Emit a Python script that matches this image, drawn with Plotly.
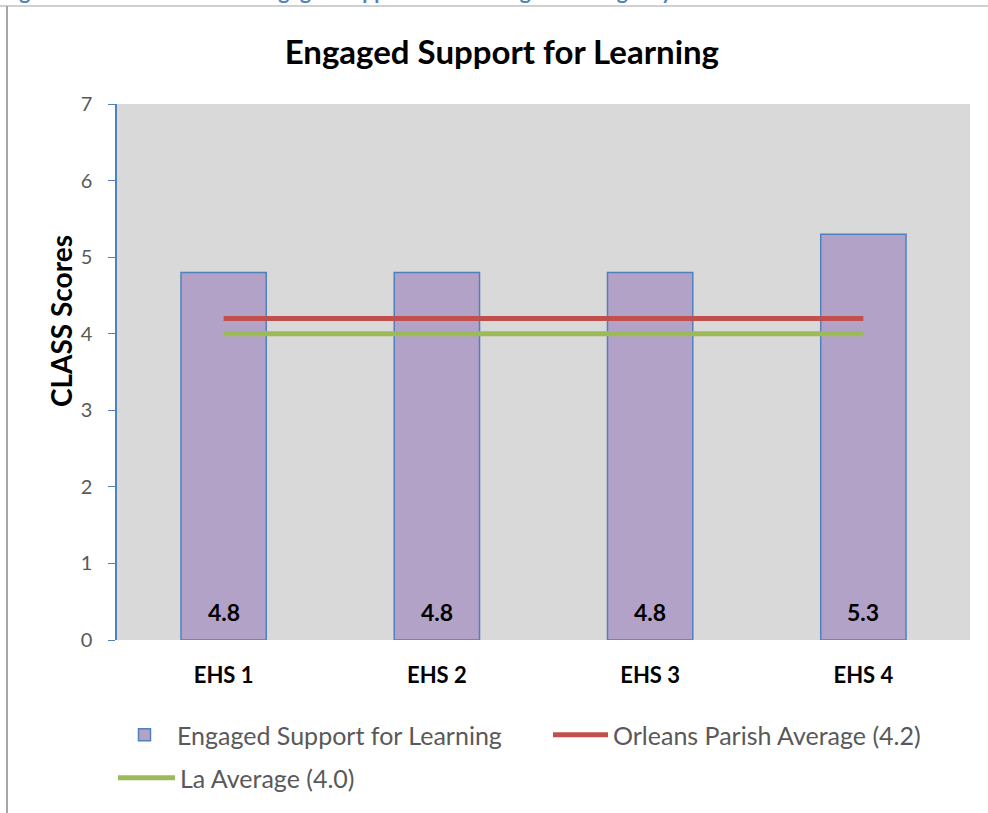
import plotly.graph_objects as go

categories = ["EHS 1", "EHS 2", "EHS 3", "EHS 4"]
engaged_scores = [4.8, 4.8, 4.8, 5.3]
orleans_avg = [4.2, 4.2, 4.2, 4.2]
la_avg = [4.0, 4.0, 4.0, 4.0]

FONT = "Lato"
W, H = 988, 813
L, R, T, B = 117, 18, 104, 173


def px_x(p):
    return (p - L) / (W - L - R)


def px_y(p):
    return (H - B - p) / (H - T - B)


fig = go.Figure()
fig.add_trace(
    go.Bar(
        x=categories,
        y=engaged_scores,
        name="Engaged Support for Learning",
        marker=dict(color="#B3A2C7", line=dict(color="#4F81BD", width=1.5)),
        legend="legend",
        showlegend=True,
    )
)
fig.add_trace(
    go.Scatter(
        x=categories,
        y=orleans_avg,
        mode="lines",
        name="Orleans Parish Average (4.2)",
        line=dict(color="#C0504D", width=5),
        legend="legend2",
    )
)
fig.add_trace(
    go.Scatter(
        x=categories,
        y=la_avg,
        mode="lines",
        name="La Average (4.0)",
        line=dict(color="#9BBB59", width=5),
        legend="legend3",
    )
)

# value labels sitting at the base of each bar
for cat, val in zip(categories, engaged_scores):
    fig.add_annotation(
        x=cat, y=0, text=f"<b>{val:.1f}</b>",
        yanchor="bottom", yshift=12, showarrow=False,
        font=dict(family=FONT, size=23, color="black"),
    )

# y axis title sits above the axis middle, as in the source chart
fig.add_annotation(
    text="<b>CLASS Scores</b>",
    xref="paper", yref="paper",
    x=px_x(61), y=px_y(321),
    xanchor="center", yanchor="middle",
    textangle=-90, showarrow=False,
    font=dict(family=FONT, size=28, color="black"),
)

# cropped document caption and chart frame
fig.add_annotation(
    text="<b>Figure 3: CLASS Scores for Engaged Support for Learning Across Agency</b>",
    xref="paper", yref="paper",
    x=px_x(0), y=px_y(5),
    xanchor="left", yanchor="bottom",
    showarrow=False,
    font=dict(family=FONT, size=21, color="#4F81BD"),
)
fig.add_shape(type="line", xref="paper", yref="paper",
              x0=px_x(0), x1=px_x(988), y0=px_y(6), y1=px_y(6),
              line=dict(color="#D0D0D0", width=2))
fig.add_shape(type="line", xref="paper", yref="paper",
              x0=px_x(7), x1=px_x(7), y0=px_y(6), y1=px_y(813),
              line=dict(color="#A6A6A6", width=2))

legend_common = dict(
    orientation="h",
    xanchor="left",
    yanchor="middle",
    font=dict(family=FONT, size=25, color="#595959"),
    bgcolor="rgba(0,0,0,0)",
)

fig.update_layout(
    width=W,
    height=H,
    margin=dict(l=L, r=R, t=T, b=B),
    paper_bgcolor="white",
    plot_bgcolor="#D9D9D9",
    bargap=0.6,
    showlegend=True,
    title=dict(
        text="<b>Engaged Support for Learning</b>",
        x=0.508, xanchor="center",
        y=1 - 52 / H, yanchor="middle",
        font=dict(family=FONT, size=33, color="black"),
    ),
    legend=dict(x=px_x(112), y=px_y(735), itemwidth=55, visible=True, **legend_common),
    legend2=dict(x=px_x(548), y=px_y(735), itemwidth=55, **legend_common),
    legend3=dict(x=px_x(113), y=px_y(778), itemwidth=57, **legend_common),
    xaxis=dict(
        showgrid=False,
        showline=False,
        ticks="",
        ticklabelstandoff=20,
        tickfont=dict(family=FONT, size=22, color="black", weight="bold"),
    ),
    yaxis=dict(
        range=[0, 7],
        dtick=1,
        showgrid=False,
        zeroline=False,
        showline=True,
        linecolor="#4F81BD",
        linewidth=1.5,
        ticks="outside",
        ticklen=7,
        tickcolor="#4F81BD",
        ticklabelstandoff=12,
        tickfont=dict(family=FONT, size=20, color="#595959"),
    ),
)

fig.write_html(
    "out.html",
    config={"displayModeBar": False},
    post_script="document.body.style.margin = '0';",
)
